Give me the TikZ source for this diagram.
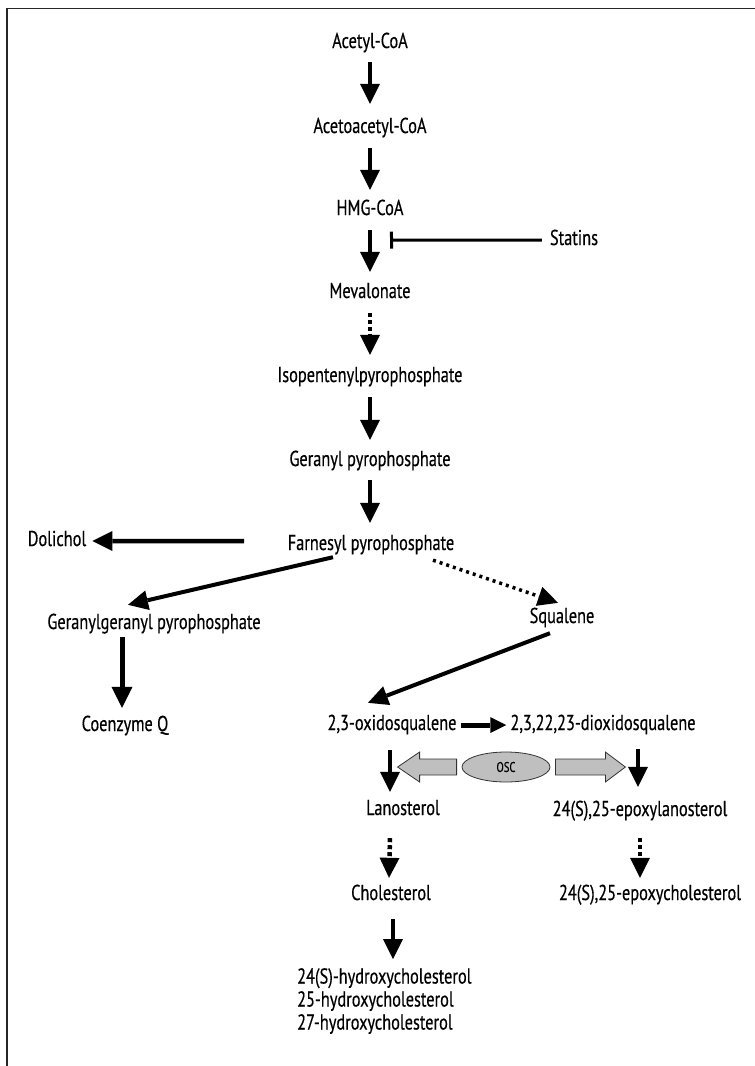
\documentclass[tikz,border=0pt]{standalone}
\usepackage{fontspec}
\setmainfont{PT Sans}[FakeStretch=0.76,FakeBold=0.4]
\usetikzlibrary{arrows.meta,calc,shapes.geometric}
\begin{document}
\begin{tikzpicture}[x=1pt,y=-1pt,
  lbl/.style={inner sep=0pt,text height=14pt,text depth=4pt,font=\fontsize{21.5}{24}\selectfont},
  arr/.style={line width=4.5pt,-{Triangle[width=20pt,length=20pt,line width=0pt]}},
  arrbig/.style={line width=5pt,-{Triangle[width=21pt,length=21pt,line width=0pt]}},
  arrsmall/.style={line width=5pt,-{Triangle[width=16pt,length=16pt,line width=0pt]}},
  darr/.style={arr,dash pattern=on 4pt off 3pt},
  ddiag/.style={line width=3.5pt,dash pattern=on 3pt off 4pt,-{Triangle[width=20pt,length=20pt,line width=0pt]}},
  block/.style={draw=black!80,line width=0.8pt,fill=black!25},
]
\useasboundingbox (0,0) rectangle (755,1066);
\draw[line width=1.6pt,black!85] (755,8.5) -- (7,8.5) -- (7,1066);

\node[lbl] (acetyl) at (370,43) {Acetyl-CoA};
\node[lbl] (acetoacetyl) at (370,128) {Acetoacetyl-CoA};
\node[lbl] (hmg) at (370,210) {HMG-CoA};
\node[lbl] (statins) at (574,240) {Statins};
\node[lbl] (mev) at (370,293) {Mevalonate};
\node[lbl] (ipp) at (370,377) {Isopentenylpyrophosphate};
\node[lbl] (gpp) at (370,461) {Geranyl pyrophosphate};
\node[lbl] (fpp) at (371,545) {Farnesyl pyrophosphate};
\node[lbl] (dol) at (57,541) {Dolichol};
\node[lbl] (ggpp) at (154,624) {Geranylgeranyl pyrophosphate};
\node[lbl] (squalene) at (562,618) {Squalene};
\node[lbl] (coq) at (125,726) {Coenzyme Q};
\node[lbl] (oxido) at (392,725) {2,3-oxidosqualene};
\node[lbl] (dioxido) at (603,725) {2,3,22,23-dioxidosqualene};
\node[lbl] (lano) at (403,810) {Lanosterol};
\node[lbl] (epoxylano) at (640,811) {24(S),25-epoxylanosterol};
\node[lbl] (chol) at (391,895) {Cholesterol};
\node[lbl] (epoxychol) at (650,895) {24(S),25-epoxycholesterol};
\node[inner sep=0pt,anchor=north west,align=left,font=\fontsize{21.5}{23}\selectfont] (hyd) at (297,968)
  {24(S)-hydroxycholesterol\\25-hydroxycholesterol\\27-hydroxycholesterol};
\node[ellipse,draw=black!80,line width=0.8pt,fill=black!25,minimum width=88pt,minimum height=30pt,inner sep=0pt,
  font=\fontsize{14}{15}\selectfont] (osc) at (506,767) {OSC};

% main column
\draw[arr] ($(acetyl.south)+(0,10)$) -- ($(acetoacetyl.north)+(0,-15)$);
\draw[arr] ($(acetoacetyl.south)+(0,11)$) -- ($(hmg.north)+(0,-11)$);
\draw[arr] ($(hmg.south)+(0,11)$) -- ($(mev.north)+(0,-12)$);
\coordinate (inh) at ($(hmg.south)+(20,21)$);
\draw[line width=3pt,-{Bar[width=17pt,line width=3pt]},shorten <=8pt] (statins.west) -- (inh);
\draw[darr] ($(mev.south)+(0,11)$) -- ($(ipp.north)+(0,-13)$);
\draw[arr] ($(ipp.south)+(0,11)$) -- ($(gpp.north)+(0,-12)$);
\draw[arr] ($(gpp.south)+(0,10)$) -- ($(fpp.north)+(-1,-13)$);

% branches
\coordinate (dolstart) at ($(fpp.south)+(-127,-13)$);
\draw[arr] (dolstart) -- ($(dol.east)+(6,0)$);
\draw[arr,line width=4pt] ($(fpp.south)+(-38,3)$) -- ($(ggpp.north)+(-26,-10)$);
\draw[ddiag] ($(fpp.south)+(62,6)$) -- ($(squalene.north)+(-4,-6)$);
\draw[arrbig] ($(ggpp.south)+(-32,4)$) -- ($(coq.north)+(-3,-9)$);
\draw[arr,line width=4pt] ($(squalene.south)+(-12,6)$) -- ($(oxido.north)+(-24,-13)$);
\draw[arrsmall] ($(oxido.east)+(4,0)$) -- ($(dioxido.west)+(-4,0)$);

% lower part
\draw[arr] ($(oxido.south)+(-2,16)$) -- ($(lano.north)+(-13,-9)$);
\coordinate (rightcol) at ($(epoxylano.north)+(-2,0)$);
\draw[arr] (rightcol |- dioxido.south) ++(0,15) -- ($(rightcol)+(0,-15)$);
\draw[darr] ($(lano.south)+(-13,19)$) -- ($(chol.north)+(-2,-8)$);
\draw[darr] ($(epoxylano.south)+(0,18)$) -- ($(epoxychol.north)+(-10,-8)$);
\coordinate (cholcol) at ($(chol.south)+(2,0)$);
\draw[arr] ($(cholcol)+(0,15)$) -- ($(cholcol |- hyd.north)+(0,-9)$);

% OSC block arrows
\filldraw[block] ($(osc.west)+(-5,-8)$) -- ($(osc.west)+(-42,-8)$) -- ($(osc.west)+(-42,-15)$)
  -- ($(osc.west)+(-64,0)$) -- ($(osc.west)+(-42,15)$) -- ($(osc.west)+(-42,8)$) -- ($(osc.west)+(-5,8)$) -- cycle;
\filldraw[block] ($(osc.east)+(5,-8)$) -- ($(osc.east)+(55,-8)$) -- ($(osc.east)+(55,-15)$)
  -- ($(osc.east)+(75,0)$) -- ($(osc.east)+(55,15)$) -- ($(osc.east)+(55,8)$) -- ($(osc.east)+(5,8)$) -- cycle;
\end{tikzpicture}
\end{document}
